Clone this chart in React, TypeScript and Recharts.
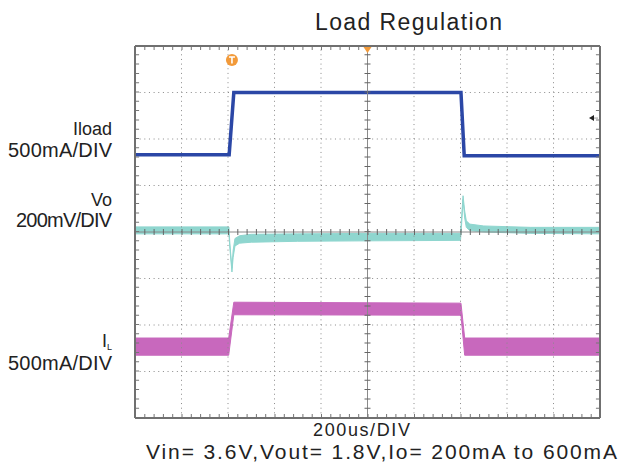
import React from "react";
import { ComposedChart, Line, Area, XAxis, YAxis, ReferenceLine, ReferenceDot } from "recharts";

// time axis: 200us/DIV, 10 divisions
const timeTicks = [0, 200, 400, 600, 800, 1000, 1200, 1400, 1600, 1800, 2000];
// vertical divisions (-4..4)
const divTicks = [-4, -3, -2, -1, 0, 1, 2, 3, 4];

// Iload trace (divisions)
const iloadTime = [0, 405, 425, 1402, 1416, 2000];
const iloadValue = [1.66, 1.66, 3.0, 3.0, 1.64, 1.64];

// Vo trace band (divisions)
const voTime = [0, 404, 408, 417, 422, 430, 450, 500, 700, 1000, 1400, 1404, 1411, 1418, 1425, 1440, 1500, 1700, 2000];
const voHigh = [0.11, 0.11, -0.25, -0.78, -0.4, -0.14, -0.08, -0.05, -0.04, -0.03, -0.03, 0.25, 0.78, 0.45, 0.24, 0.17, 0.13, 0.1, 0.1];
const voLow = [-0.04, -0.04, -0.35, -0.86, -0.55, -0.3, -0.24, -0.22, -0.2, -0.19, -0.18, 0.1, 0.7, 0.3, 0.1, 0.03, 0.0, -0.03, -0.04];

// IL trace band (divisions)
const ilTime = [0, 403, 425, 1402, 1418, 2000];
const ilHigh = [-2.28, -2.28, -1.51, -1.53, -2.28, -2.28];
const ilLow = [-2.65, -2.65, -1.78, -1.79, -2.65, -2.65];

const iloadData = iloadTime.map((t, i) => ({ t, v: iloadValue[i] }));
const voData = voTime.map((t, i) => ({ t, band: [voLow[i], voHigh[i]] }));
const ilData = ilTime.map((t, i) => ({ t, band: [ilLow[i], ilHigh[i]] }));

const FONT = "'Liberation Sans', Arial, sans-serif";

const TriggerMark = (props: any) => {
  const { cx, cy } = props;
  return (
    <g>
      <circle cx={cx} cy={cy} r={6} fill="#f29a3a" />
      <path d={`M${cx - 3},${cy - 3} L${cx + 3},${cy - 3} M${cx},${cy - 3} L${cx},${cy + 3.5}`} stroke="#fff" strokeWidth={1.6} />
    </g>
  );
};

const TopMark = (props: any) => {
  const { cx, cy } = props;
  return <path d={`M${cx - 4},${cy} L${cx + 4},${cy} L${cx},${cy + 6} Z`} fill="#f29a3a" />;
};

const ArrowMark = (props: any) => {
  const { cx, cy } = props;
  return (
    <g>
      <path d={`M${cx - 4},${cy} L${cx + 1},${cy - 3} L${cx + 1},${cy + 3} Z`} fill="#222" />
      <line x1={cx + 1} y1={cy} x2={cx + 5} y2={cy} stroke="#999" strokeWidth={1} />
    </g>
  );
};

export default function App() {
  const gridColor = "#8a8a8a";
  return (
    <div style={{ position: "absolute", left: 0, top: 0, width: 622, height: 472, background: "#fff" }}>
      <ComposedChart width={622} height={472} margin={{ top: 46, right: 22, bottom: 54, left: 135 }}>
        <XAxis dataKey="t" type="number" domain={[0, 2000]} ticks={timeTicks} hide allowDataOverflow />
        <YAxis type="number" domain={[-4, 4]} ticks={divTicks} hide allowDataOverflow />

        {timeTicks.slice(1, -1).filter((t) => t !== 1000).map((t) => (
          <ReferenceLine key={"vx" + t} x={t} stroke={gridColor} strokeWidth={1} strokeDasharray="1 3.65" />
        ))}
        {divTicks.slice(1, -1).filter((d) => d !== 0).map((d) => (
          <ReferenceLine key={"hy" + d} y={d} stroke={gridColor} strokeWidth={1} strokeDasharray="1 3.65" />
        ))}

        <Area data={ilData} dataKey="band" type="linear" stroke="#c868bd" strokeWidth={1} fill="#c868bd" fillOpacity={1} isAnimationActive={false} dot={false} activeDot={false} />
        <Area data={voData} dataKey="band" type="linear" stroke="#8fd6cf" strokeWidth={1} fill="#8fd6cf" fillOpacity={1} isAnimationActive={false} dot={false} activeDot={false} />
        <Line data={iloadData} dataKey="v" type="linear" stroke="#2b47a6" strokeWidth={3.5} dot={false} activeDot={false} isAnimationActive={false} />

        {/* center axes with tick marks */}
        <ReferenceLine x={1000} stroke="#8a8a8a" strokeWidth={1} />
        <ReferenceLine x={1000} stroke="#666" strokeWidth={6} strokeDasharray="1 8.3" />
        <ReferenceLine y={0} stroke="#8a8a8a" strokeWidth={1} />
        <ReferenceLine y={0} stroke="#666" strokeWidth={6} strokeDasharray="1 8.3" />

        {/* frame tick marks */}
        <ReferenceLine x={9} stroke="#777" strokeWidth={4} strokeDasharray="1 8.3" />
        <ReferenceLine x={1991} stroke="#777" strokeWidth={4} strokeDasharray="1 8.3" />
        <ReferenceLine y={3.955} stroke="#777" strokeWidth={4} strokeDasharray="1 8.3" />
        <ReferenceLine y={-3.955} stroke="#777" strokeWidth={4} strokeDasharray="1 8.3" />

        {/* frame */}
        <ReferenceLine x={0} stroke="#707070" strokeWidth={2} />
        <ReferenceLine x={2000} stroke="#707070" strokeWidth={2} />
        <ReferenceLine y={4} stroke="#707070" strokeWidth={2} />
        <ReferenceLine y={-4} stroke="#707070" strokeWidth={2} />

        <ReferenceDot x={417} y={3.7} r={6} shape={TriggerMark} />
        <ReferenceDot x={1000} y={3.98} r={4} shape={TopMark} />
        <ReferenceDot x={1970} y={2.45} r={4} shape={ArrowMark} />
      </ComposedChart>

      <svg width={622} height={472} style={{ position: "absolute", left: 0, top: 0, pointerEvents: "none" }}>
        <g fontFamily={FONT} fill="#222">
          <text x={315} y={30} fontSize={23} textLength={187} lengthAdjust="spacing">Load Regulation</text>

          <text x={112} y={135} fontSize={18} textAnchor="end">Iload</text>
          <text x={8} y={157} fontSize={20} textLength={104} lengthAdjust="spacing">500mA/DIV</text>

          <text x={112} y={206} fontSize={18} textAnchor="end">Vo</text>
          <text x={16} y={227} fontSize={20} textLength={96} lengthAdjust="spacing">200mV/DIV</text>

          <text x={107} y={347} fontSize={18} textAnchor="end">I</text>
          <text x={107} y={350} fontSize={9}>L</text>
          <text x={8} y={370} fontSize={20} textLength={104} lengthAdjust="spacing">500mA/DIV</text>

          <text x={313} y={435.5} fontSize={18} textLength={97} lengthAdjust="spacing">200us/DIV</text>
          <text x={146} y={459} fontSize={21} textLength={471} lengthAdjust="spacing">Vin= 3.6V,Vout= 1.8V,Io= 200mA to 600mA</text>
        </g>
      </svg>
    </div>
  );
}
